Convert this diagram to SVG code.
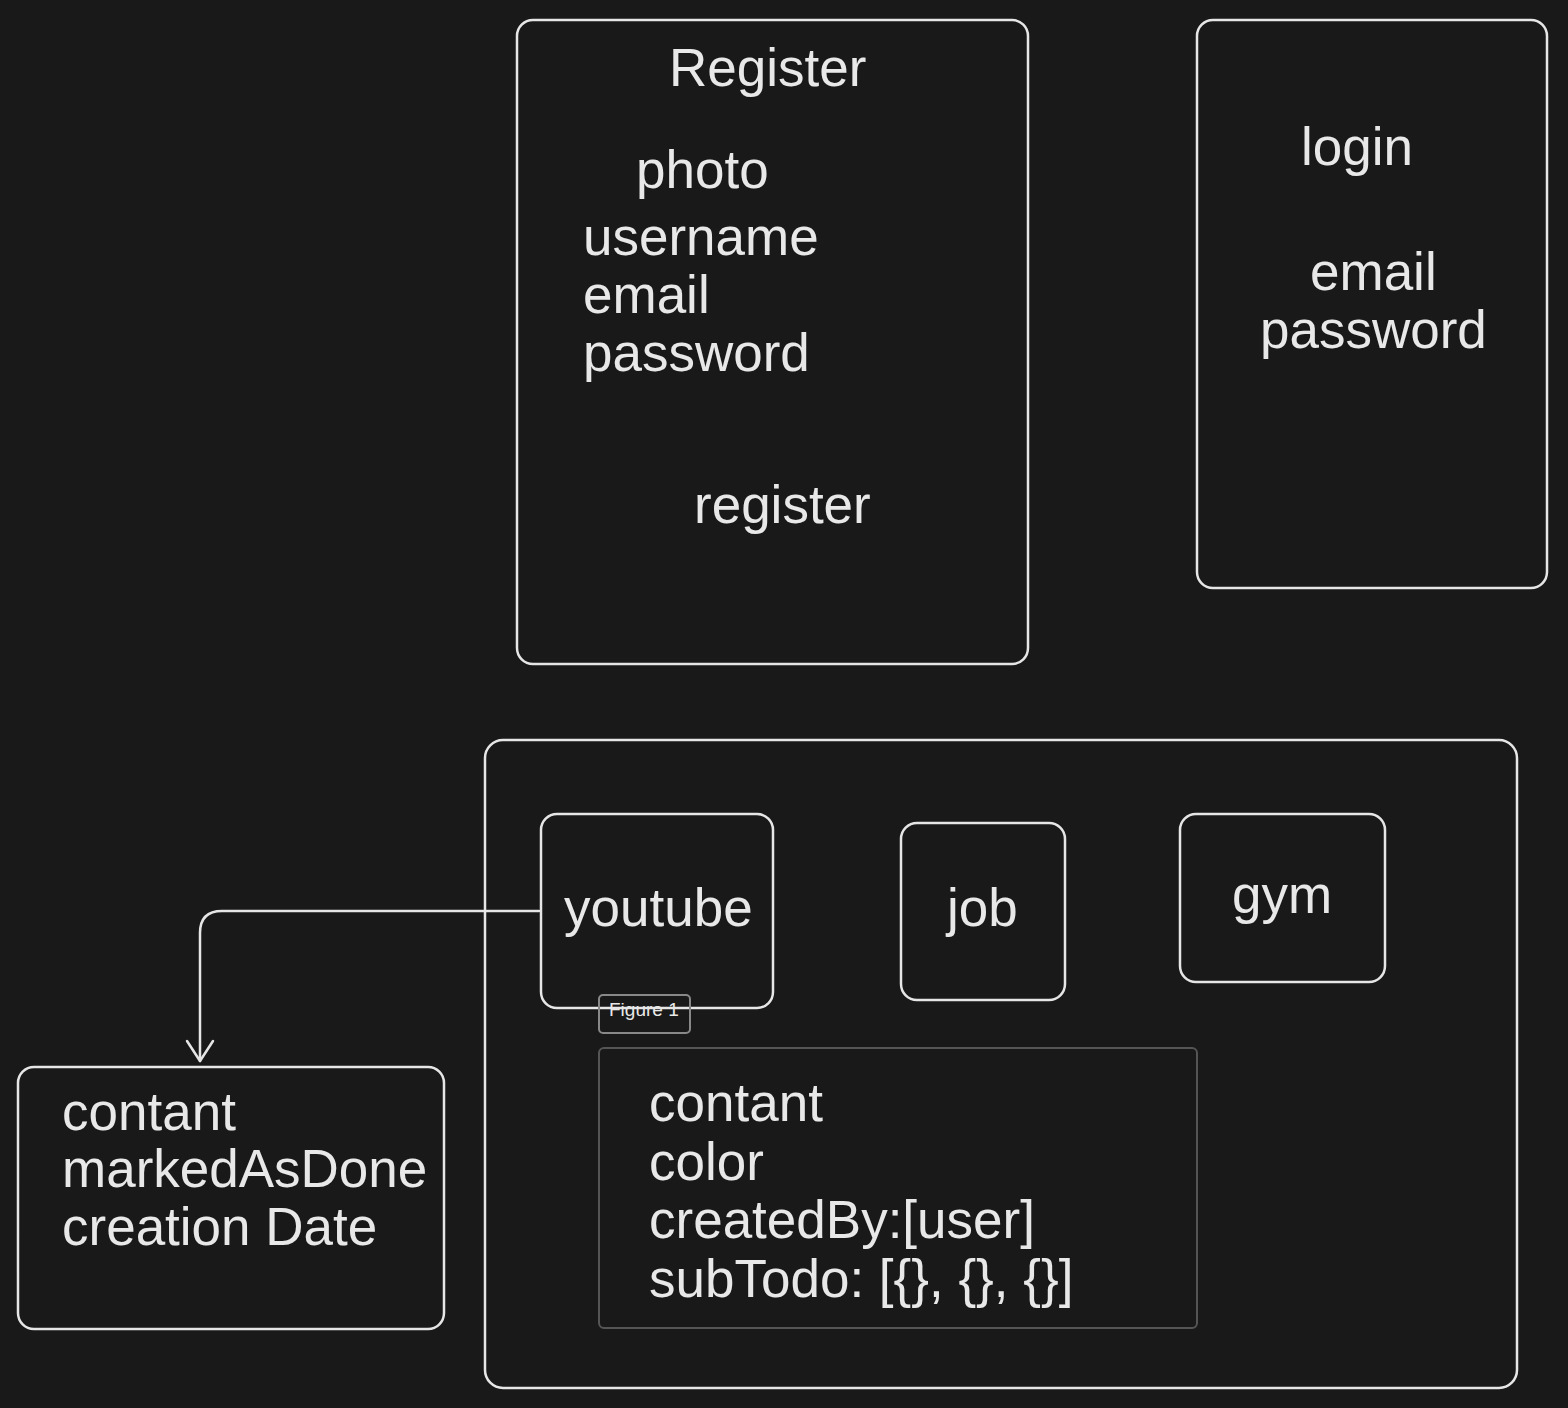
<svg xmlns="http://www.w3.org/2000/svg" width="1568" height="1408" viewBox="0 0 1568 1408">
<defs>
<style>
.box{fill:none;stroke:#e6e6e6;stroke-width:2.5}
.panel{fill:none;stroke:#555;stroke-width:2}
.t{font-family:"Liberation Sans",Arial,sans-serif;font-size:53px;fill:#e8e8e8}
.small{font-family:"Liberation Sans",Arial,sans-serif;font-size:19px;fill:#e8e8e8}
.conn{fill:none;stroke:#e6e6e6;stroke-width:2.5;stroke-linecap:round;stroke-linejoin:round}
</style>
<marker id="arrow" markerWidth="30" markerHeight="30" refX="22" refY="15" orient="auto" markerUnits="userSpaceOnUse" viewBox="0 0 30 30">
<path d="M2,2 L22,15 L2,28" fill="none" stroke="#e6e6e6" stroke-width="2.5" stroke-linecap="round" stroke-linejoin="round"/>
</marker>
</defs>
<rect width="1568" height="1408" fill="#191919"/>

<g id="register">
<rect class="box" x="517" y="20" width="511" height="644" rx="16"/>
<text class="t" x="669" y="86">Register</text>
<text class="t" x="636" y="188">photo</text>
<text class="t" x="583" y="255">username</text>
<text class="t" x="583" y="313">email</text>
<text class="t" x="583" y="371">password</text>
<text class="t" x="694" y="523">register</text>
</g>

<g id="login">
<rect class="box" x="1197" y="20" width="350" height="568" rx="16"/>
<text class="t" x="1301" y="165">login</text>
<text class="t" x="1310" y="290">email</text>
<text class="t" x="1260" y="348">password</text>
</g>

<g id="main">
<rect class="box" x="485" y="740" width="1032" height="648" rx="18"/>
</g>

<g id="youtube">
<rect class="box" x="541" y="814" width="232" height="194" rx="16"/>
<text class="t" x="564" y="926">youtube</text>
</g>

<g id="job">
<rect class="box" x="901" y="823" width="164" height="177" rx="16"/>
<text class="t" x="947" y="926">job</text>
</g>

<g id="gym">
<rect class="box" x="1180" y="814" width="205" height="168" rx="16"/>
<text class="t" x="1232" y="913">gym</text>
</g>

<g id="subtodo">
<rect class="box" x="18" y="1067" width="426" height="262" rx="16"/>
<text class="t" x="62" y="1130">contant</text>
<text class="t" x="62" y="1187">markedAsDone</text>
<text class="t" x="62" y="1245">creation Date</text>
</g>

<g id="figure1">
<rect class="panel" x="599" y="1048" width="598" height="280" rx="5"/>
<text class="t" x="649" y="1121">contant</text>
<text class="t" x="649" y="1180">color</text>
<text class="t" x="649" y="1238">createdBy:[user]</text>
<text class="t" x="649" y="1297">subTodo: [{}, {}, {}]</text>
<rect fill="none" stroke="#888" stroke-width="2" x="599" y="995" width="91" height="38" rx="4"/>
<text class="small" x="609" y="1016">Figure 1</text>
</g>

<g id="connectors">
<path class="conn" d="M539,911 L222,911 Q200,911 200,933 L200,1061" marker-end="url(#arrow)"/>
</g>
</svg>
